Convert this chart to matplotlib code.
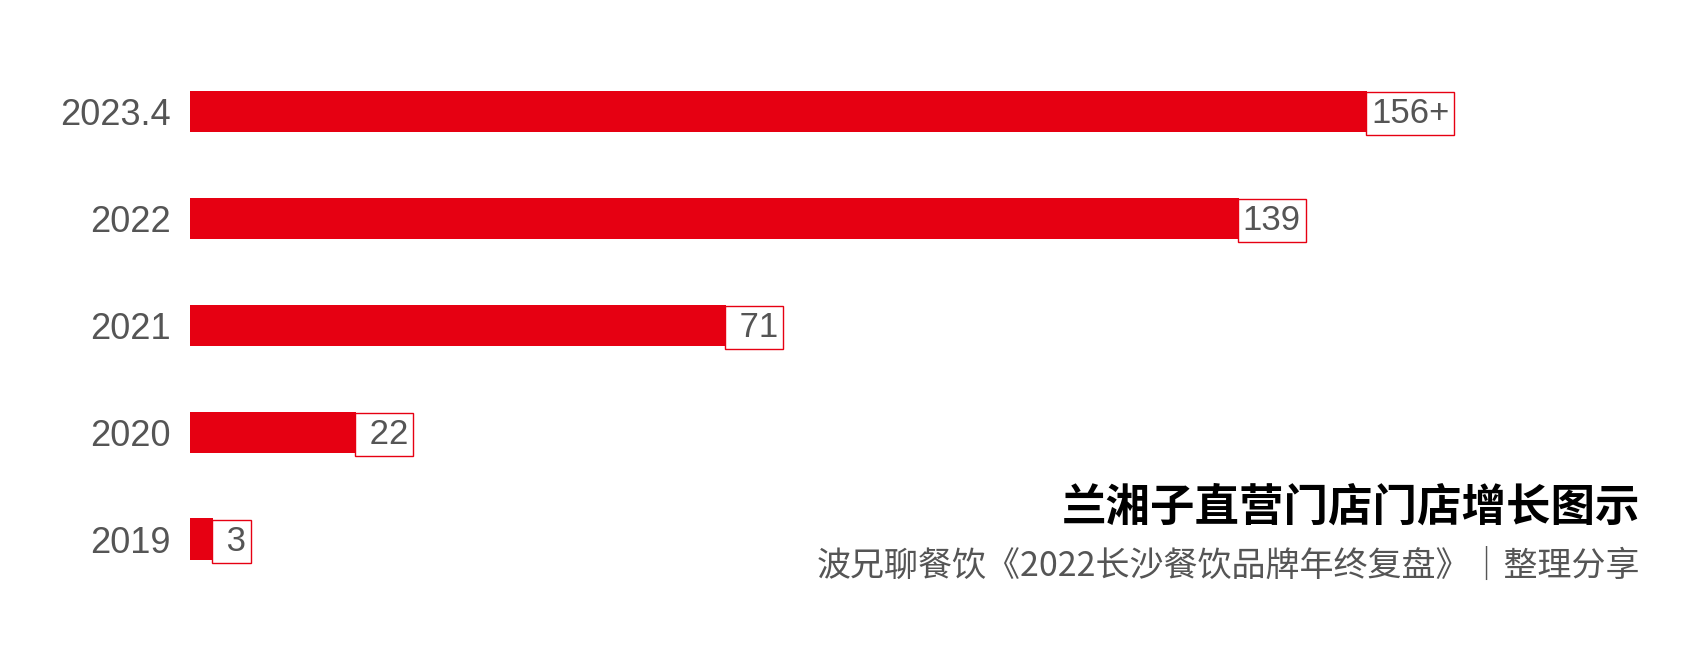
import matplotlib.pyplot as plt

plt.rcParams['font.family'] = ['Noto Sans CJK SC', 'DejaVu Sans']

years = ["2023.4", "2022", "2021", "2020", "2019"]
stores = [156, 139, 71, 22, 3]
value_labels = ["156+", "139", "71", "22", "3"]

title = "兰湘子直营门店门店增长图示"
source = "波兄聊餐饮《2022长沙餐饮品牌年终复盘》｜整理分享"

fig = plt.figure(figsize=(16.93, 6.49), dpi=100)
ax = fig.add_axes([0.1123, 0.087, 0.8377, 0.824])

pos = list(range(len(years)))[::-1]
ax.barh(pos, stores, height=0.385, color="#e60012")
for p, v, lab in zip(pos, stores, value_labels):
    ax.annotate(" " + lab if len(lab) < 3 else lab, (v, p), xytext=(3, -1.5), textcoords="offset points",
                ha="left", va="center", fontsize=25, color="#555555",
                family=["Liberation Sans", "DejaVu Sans"],
                bbox=dict(boxstyle="square,pad=0.14", fc="white", ec="#e60012", lw=1))

ax.set_yticks(pos)
ax.set_yticklabels(years, fontsize=26, color="#555555", family=["Liberation Sans", "DejaVu Sans"])
ax.set_xlim(0, 188)
ax.set_ylim(-0.5, 4.5)
ax.set_xticks([])
ax.tick_params(axis="y", length=0, pad=14)
for s in ax.spines.values():
    s.set_visible(False)

fig.text(0.969, 0.218, title, ha="right", va="center",
         fontsize=32, fontweight="bold", color="black")
fig.text(0.969, 0.127, source, ha="right", va="center",
         fontsize=24.5, color="#555555")

fig.savefig("out.png", dpi=100)
